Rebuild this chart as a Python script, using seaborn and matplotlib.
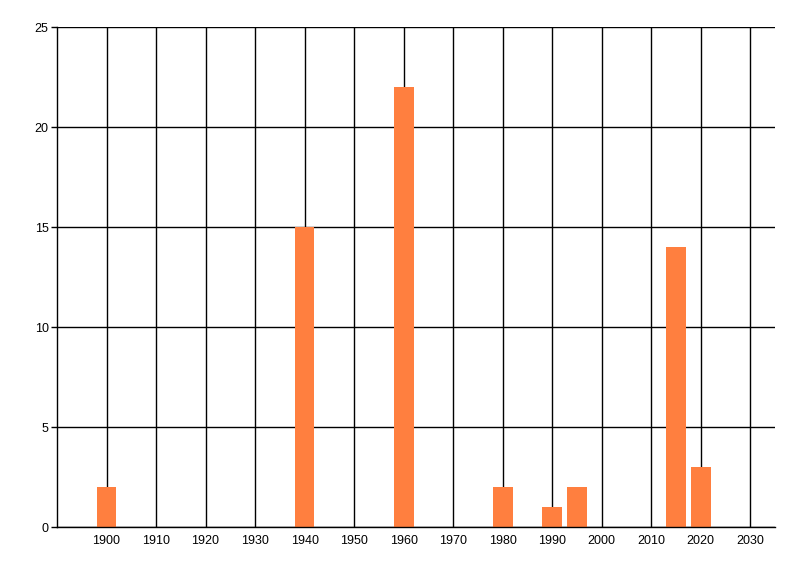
import numpy as np
import seaborn as sns
import matplotlib.pyplot as plt
import pandas as pd

# values
years = [1900, 1940, 1960, 1980, 1990, 1995, 2015, 2020]
counts = [2, 15, 22, 2, 1, 2, 14, 3]
x_ticks = list(range(1900, 2031, 10))
y_ticks = [0, 5, 10, 15, 20, 25]

df = pd.DataFrame({'year': years, 'count': counts})

sns.set_style('white')
plt.rcParams['font.family'] = ['Liberation Sans', 'DejaVu Sans']

fig = plt.figure(figsize=(8, 5.76), dpi=100)
ax = fig.add_axes([57 / 800, 1 - 527 / 576, (775 - 57) / 800, 500 / 576])

# native_scale keeps the years numeric; width is relative to the 5-year spacing
sns.barplot(data=df, x='year', y='count', native_scale=True, width=0.8,
            color='#FF7F3F', saturation=1, linewidth=0, ax=ax)

ax.set_xlim(1890, 2035)
ax.set_ylim(0, 25)
ax.set_xticks(x_ticks)
ax.set_yticks(y_ticks)
ax.set_xlabel('')
ax.set_ylabel('')

ax.set_axisbelow(True)
ax.grid(True, color='black', linewidth=1)

for side in ['top', 'right']:
    ax.spines[side].set_visible(False)
for side in ['left', 'bottom']:
    ax.spines[side].set_color('black')
    ax.spines[side].set_linewidth(1)

ax.tick_params(axis='x', length=0, pad=6, labelsize=9, colors='black')
ax.tick_params(axis='y', length=4, width=1, pad=2, labelsize=9, colors='black', left=True)

fig.savefig('out.png', dpi=100)
